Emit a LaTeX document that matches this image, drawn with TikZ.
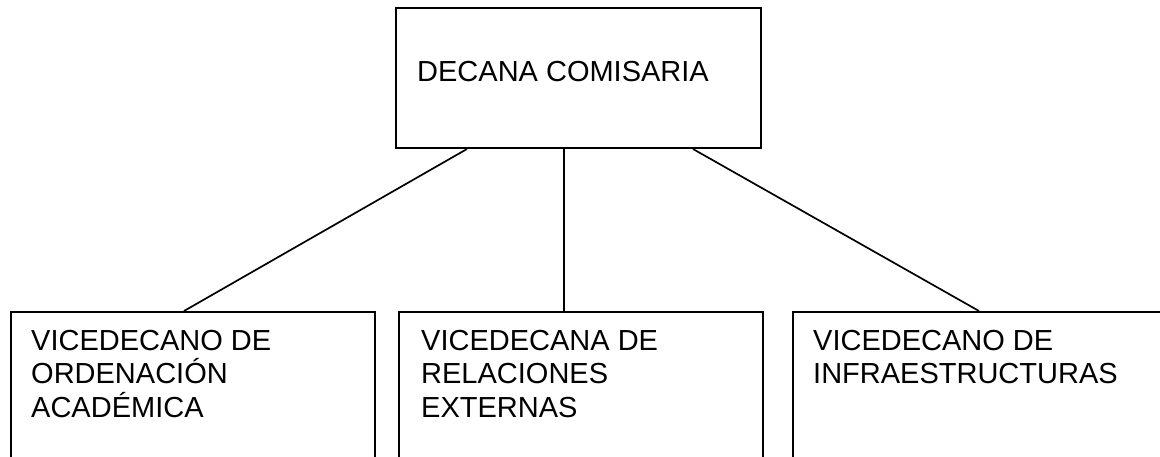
\documentclass[tikz,border=0pt]{standalone}
\usepackage{fontspec}
\setmainfont{Liberation Sans}
\usetikzlibrary{calc}
\begin{document}
\begin{tikzpicture}[x=1pt,y=-1pt,
  box/.style={draw=black,line width=2pt,rectangle,inner sep=0pt,anchor=north west},
  lbl/.style={anchor=base west,align=left,inner sep=0pt,font=\fontsize{29}{33.5}\selectfont},
  conn/.style={draw=black,line width=1.7pt}]
\useasboundingbox (0,0) rectangle (1160,457);
\clip (0,0) rectangle (1160,457);
\fill[white] (0,0) rectangle (1160,457);
\node[box,minimum width=365pt,minimum height=140pt] (top) at (395,7) {};
\node[box,minimum width=364.5pt,minimum height=200pt] (b1) at (9.5,311) {};
\node[box,minimum width=364pt,minimum height=200pt] (b2) at (398,311) {};
\node[box,minimum width=420pt,minimum height=200pt] (b3) at (792,311) {};
\node[lbl] (ttop) at (417,82) {DECANA COMISARIA};
\node[lbl] (t1) at (31,417) {VICEDECANO DE\\ORDENACIÓN\\ACADÉMICA};
\node[lbl] (t2) at (421,417) {VICEDECANA DE\\RELACIONES\\EXTERNAS};
\node[lbl] (t3) at (813,383.5) {VICEDECANO DE\\INFRAESTRUCTURAS};
\draw[conn] ($(top.south west)+(72,0)$) -- ($(b1.north west)+(174.5,0)$);
\draw[conn] ($(top.south west)+(169,0)$) -- ($(b2.north west)+(166,0)$);
\draw[conn] ($(top.south west)+(298,0)$) -- ($(b3.north west)+(187,0)$);
\end{tikzpicture}
\end{document}
